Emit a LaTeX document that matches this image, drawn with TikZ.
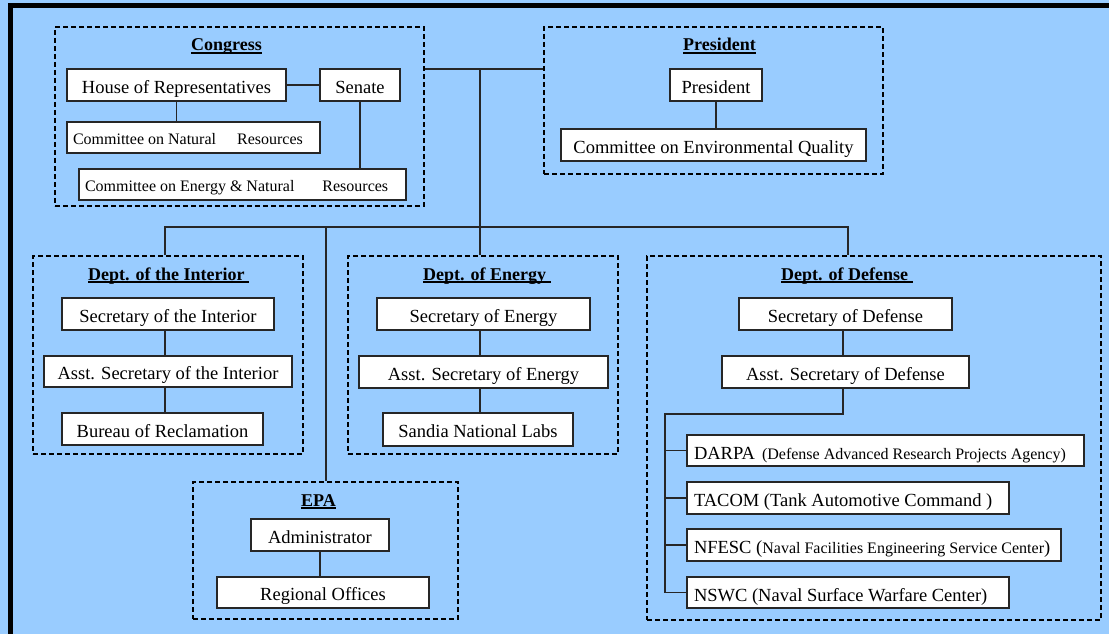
\documentclass[tikz,border=0pt]{standalone}
\usepackage{fontspec}
\setmainfont{Liberation Serif}
\definecolor{bgblue}{HTML}{99CCFF}
\newcommand\ulx[1]{\setbox0\hbox{#1}\rlap{\rule[-2.8pt]{\wd0}{1.4pt}}\box0}
\newcommand\smallfnt{\fontsize{16}{18}\selectfont}
\newcommand\lft[2]{\makebox[#1][l]{#2}}
\begin{document}
\begin{tikzpicture}[x=1pt,y=-1pt,
  box/.style={draw=black!85,line width=1.2pt,fill=white,inner sep=0pt,text height=18pt,text depth=2pt,font=\fontsize{18.5}{20}\selectfont},
  lbox/.style={box,inner xsep=6pt,text height=15pt,text depth=2pt,font=\smallfnt},
  dbox/.style={box,inner xsep=7pt,text height=18.5pt,text depth=1.5pt},
  group/.style={draw=black,line width=1.7pt,dash pattern=on 5pt off 3pt,inner sep=0pt},
  title/.style={inner sep=0pt,anchor=base west,font=\bfseries\fontsize{18}{20}\selectfont},
  conn/.style={line width=1.3pt,draw=black!85}]

\fill[bgblue] (0,0) rectangle (1109,634);
\useasboundingbox (0,0) rectangle (1109,634);
\draw[line width=5pt] (10.5,640) -- (10.5,5.5) -- (1115,5.5);

% groups
\node[group,minimum width=369pt,minimum height=179pt] (congress) at (239.5,116.5) {};
\node[group,minimum width=339pt,minimum height=147pt] (presgrp) at (713.5,100.5) {};
\node[group,minimum width=270pt,minimum height=198pt] (interior) at (168,355) {};
\node[group,minimum width=270pt,minimum height=198pt] (energy) at (483,355) {};
\node[group,minimum width=454pt,minimum height=364pt] (defense) at (874,438) {};
\node[group,minimum width=265pt,minimum height=137pt] (epa) at (325.5,550.5) {};

% titles
\node[title] (tcon) at (191,51) {\ulx{Congress}};
\node[title] (tpres) at (683,51) {\ulx{President}};
\node[title] (tint) at (88,280) {\ulx{Dept. of the Interior\ }};
\node[title] (ten) at (423,280) {\ulx{Dept. of Energy\ }};
\node[title] (tdef) at (781,280) {\ulx{Dept. of Defense\ }};
\node[title] (tepa) at (301,506) {\ulx{EPA}};

% congress
\node[box,minimum width=219pt,minimum height=32pt] (house) at (176.5,85) {House of Representatives};
\node[box,minimum width=80pt,minimum height=32pt] (senate) at (360,85) {Senate};
\node[lbox,minimum height=31pt] (cnr) at (193.5,137.5) {\lft{241pt}{Committee on Natural\hspace{21pt}Resources}};
\node[lbox,minimum height=31pt] (cenr) at (242.5,184.5) {\lft{315pt}{Committee on Energy \& Natural\hspace{28pt}Resources}};

% president
\node[box,minimum width=92pt,minimum height=32pt] (pres) at (716,85) {President};
\node[box,minimum width=305pt,minimum height=32pt] (ceq) at (713.5,145) {Committee on Environmental Quality};

% interior
\node[box,minimum width=212pt,minimum height=32pt] (secint) at (168,314) {Secretary of the Interior};
\node[box,minimum width=248pt,minimum height=31pt] (asstint) at (168,371.5) {Asst. Secretary of the Interior};
\node[box,minimum width=201pt,minimum height=32pt] (bureau) at (162.5,429) {Bureau of Reclamation};

% energy
\node[box,minimum width=213pt,minimum height=32pt] (secen) at (483.5,314) {Secretary of Energy};
\node[box,minimum width=249pt,minimum height=32pt] (assten) at (483.5,372) {Asst. Secretary of Energy};
\node[box,minimum width=190pt,minimum height=33pt] (sandia) at (478,429.5) {Sandia National Labs};

% defense
\node[box,minimum width=213pt,minimum height=32pt] (secdef) at (845.5,314) {Secretary of Defense};
\node[box,minimum width=247pt,minimum height=32pt] (asstdef) at (845.5,372) {Asst. Secretary of Defense};
\node[dbox,minimum height=31pt] (darpa) at (885.5,450.5) {\lft{383pt}{DARPA\hspace{7pt}{\smallfnt(Defense Advanced Research Projects Agency)}}};
\node[dbox,minimum height=32pt] (tacom) at (848,498) {\lft{308pt}{TACOM (Tank Automotive Command\ )}};
\node[dbox,minimum height=32pt] (nfesc) at (874,545) {\lft{360pt}{NFESC ({\smallfnt Naval Facilities Engineering Service Center})}};
\node[dbox,minimum height=31pt] (nswc) at (848,592.5) {\lft{308pt}{NSWC (Naval Surface Warfare Center)}};

% epa
\node[box,minimum width=138pt,minimum height=32pt] (admin) at (320,535) {Administrator};
\node[box,minimum width=212pt,minimum height=31pt] (regional) at (323,592.5) {Regional Offices};

% connectors
\coordinate (j1) at (480,69);
\coordinate (bl) at (165,227);
\coordinate (be) at (326,227);
\coordinate (br) at (848,227);
\coordinate (dx) at (843,414);
\coordinate (db) at (665,414);
\draw[conn] (congress.east |- j1) -- (presgrp.west |- j1);
\draw[conn] (j1) -- (j1 |- energy.north);
\draw[conn] (bl |- interior.north) -- (bl) -- (br) -- (br |- defense.north);
\draw[conn] (be) -- (be |- epa.north);
\draw[conn] (house) -- (senate);
\draw[conn] (house) -- (house |- cnr.north);
\draw[conn] (senate) -- (senate |- cenr.north);
\draw[conn] (pres) -- (pres |- ceq.north);
\draw[conn] (secint.south -| bl) -- (asstint.north -| bl);
\draw[conn] (asstint.south -| bl) -- (bureau.north -| bl);
\draw[conn] (secen.south -| j1) -- (assten.north -| j1);
\draw[conn] (assten.south -| j1) -- (sandia.north -| j1);
\draw[conn] (secdef.south -| dx) -- (asstdef.north -| dx);
\draw[conn] (admin) -- (admin |- regional.north);
\draw[conn] (asstdef.south -| dx) -- (dx) -- (db) |- (nswc);
\draw[conn] (db |- darpa) -- (darpa);
\draw[conn] (db |- tacom) -- (tacom);
\draw[conn] (db |- nfesc) -- (nfesc);
\end{tikzpicture}
\end{document}
